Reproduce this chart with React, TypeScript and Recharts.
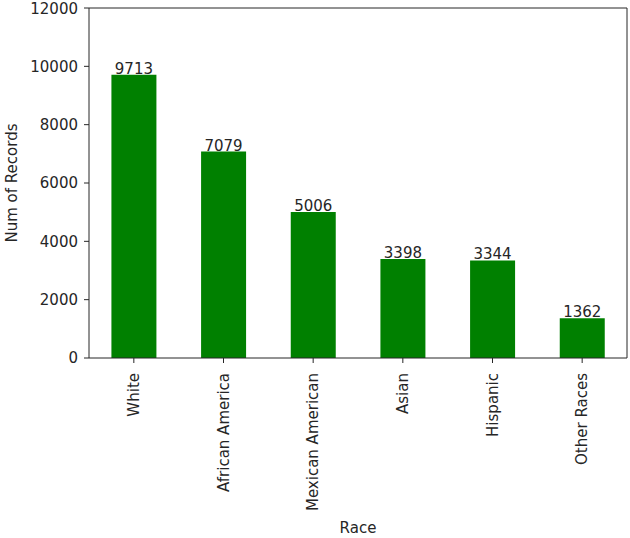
import { BarChart, Bar, XAxis, YAxis, LabelList } from "recharts";

const races = [
  "White",
  "African America",
  "Mexican American",
  "Asian",
  "Hispanic",
  "Other Races",
];
const records = [9713, 7079, 5006, 3398, 3344, 1362];
const yTicks = [0, 2000, 4000, 6000, 8000, 10000, 12000];

const data = races.map((race, i) => ({ race, count: records[i] }));

const font = "DejaVu Sans";
const ink = "#262626";

function RotatedTick(props: any) {
  const { x, y, payload } = props;
  return (
    <g transform={`translate(${x},${y + 8})`}>
      <text
        transform="rotate(-90)"
        textAnchor="end"
        dy={5}
        fontFamily={font}
        fontSize={15}
        fill={ink}
      >
        {payload.value}
      </text>
    </g>
  );
}

export default function App() {
  return (
    <div style={{ position: "absolute", left: 0, top: 0, width: 630, height: 538, background: "#fff" }}>
      <BarChart
        width={630}
        height={538}
        data={data}
        margin={{ top: 7, right: 2, bottom: 0, left: 0 }}
        barCategoryGap="25%"
      >
        <XAxis
          dataKey="race"
          interval={0}
          height={180}
          tick={<RotatedTick />}
          tickSize={5}
          stroke={ink}
          tickLine={{ stroke: ink }}
          label={{
            value: "Race",
            position: "insideBottom",
            offset: 5,
            fontFamily: font,
            fontSize: 15,
            fill: ink,
          }}
        />
        <XAxis
          xAxisId="top"
          dataKey="race"
          orientation="top"
          height={1}
          tick={false}
          tickLine={false}
          stroke={ink}
        />
        <YAxis
          domain={[0, 12000]}
          ticks={yTicks}
          width={89}
          tickSize={5}
          tickMargin={6}
          stroke={ink}
          tick={{ fontFamily: font, fontSize: 15, fill: ink }}
          label={{
            value: "Num of Records",
            angle: -90,
            position: "insideLeft",
            offset: 12,
            style: { textAnchor: "middle" },
            fontFamily: font,
            fontSize: 15,
            fill: ink,
          }}
        />
        <YAxis
          yAxisId="right"
          orientation="right"
          domain={[0, 12000]}
          width={1}
          tick={false}
          tickLine={false}
          stroke={ink}
        />
        <Bar dataKey="count" fill="#008000" isAnimationActive={false}>
          <LabelList dataKey="count" position="top" offset={1} fontFamily={font} fontSize={15} fill={ink} />
        </Bar>
      </BarChart>
    </div>
  );
}
